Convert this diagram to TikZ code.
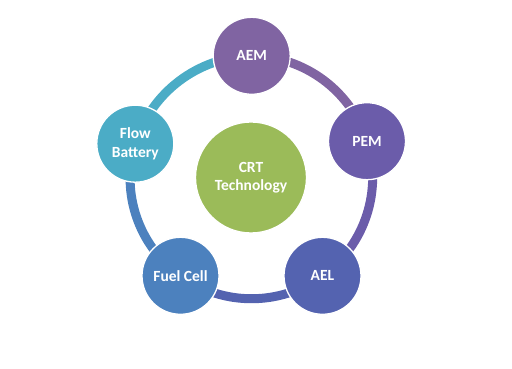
\documentclass[tikz,border=0pt]{standalone}
\usepackage{fontspec}
\setmainfont{Carlito}
\usetikzlibrary{backgrounds}
\definecolor{cAEM}{RGB}{128,100,162}
\definecolor{cPEM}{RGB}{107,92,170}
\definecolor{cAEL}{RGB}{84,99,176}
\definecolor{cFuel}{RGB}{76,129,190}
\definecolor{cFlow}{RGB}{75,172,198}
\definecolor{cCRT}{RGB}{155,187,89}
\begin{document}
\begin{tikzpicture}[x=1pt,y=1pt,
  bubble/.style={circle, minimum size=77pt, inner sep=0pt, draw=white, line width=1.3pt,
    text=white, font=\fontsize{15.5}{18.5}\selectfont\bfseries, align=center},
  hub/.style={bubble, minimum size=111pt},
  ringseg/.style={line width=9pt, bend left=36, looseness=0.94}]
\useasboundingbox (0,0) rectangle (512,369);
\node[bubble, fill=cAEM] (aem) at (251.7,313.2) {AEM};
\node[bubble, fill=cPEM] (pem) at (367,227.8) {PEM};
\node[bubble, fill=cAEL] (ael) at (322.5,93.2) {AEL};
\node[bubble, fill=cFuel] (fuel) at (180.5,93.2) {Fuel Cell};
\node[bubble, fill=cFlow] (flow) at (135.3,225.3) {Flow\\Battery};
\node[hub, fill=cCRT] (crt) at (251,191.5) {CRT\\Technology};
\begin{pgfonlayer}{background}
\draw[ringseg, cFlow] (flow.center) to (aem.center);
\draw[ringseg, cAEM] (aem.center) to (pem.center);
\draw[ringseg, cPEM] (pem.center) to (ael.center);
\draw[ringseg, cAEL] (ael.center) to (fuel.center);
\draw[ringseg, cFuel] (fuel.center) to (flow.center);
\end{pgfonlayer}
\end{tikzpicture}
\end{document}
